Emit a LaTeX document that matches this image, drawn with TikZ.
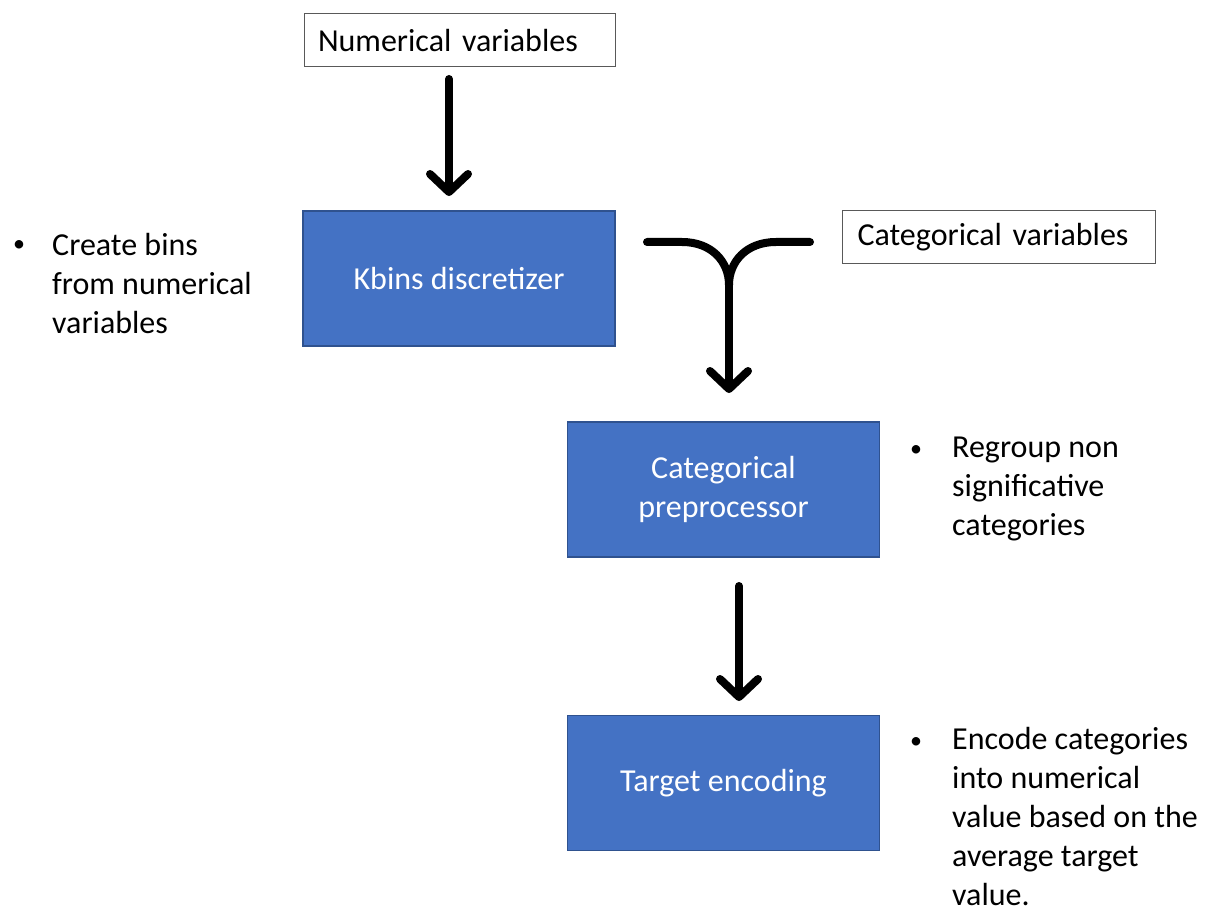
\documentclass[tikz,border=0pt]{standalone}
\usepackage{fontspec}
\setmainfont{Carlito}
\usetikzlibrary{arrows.meta}
\definecolor{boxblue}{HTML}{4472C4}
\definecolor{boxedge}{HTML}{2F528F}
\tikzset{
  inbox/.style={draw=black!65, line width=1pt, fill=white, minimum height=53pt,
    inner xsep=14pt, align=left, font=\fontsize{32}{39}\selectfont, anchor=center},
  stagebox/.style={draw=boxedge, line width=1.2pt, fill=boxblue, text=white,
    minimum width=312pt, minimum height=135pt, align=center,
    font=\fontsize{32}{39}\selectfont},
  note/.style={anchor=west, inner sep=0pt, align=left, font=\fontsize{32}{39}\selectfont},
  dot/.style={inner sep=0pt, font=\fontsize{24}{30}\selectfont},
  flow/.style={line width=8pt, line cap=round, line join=round,
    -{Straight Barb[length=18pt,width=38pt,line cap=round,line join=round]}},
  branch/.style={line width=8pt, line cap=round, line join=round}
}
\begin{document}
\begin{tikzpicture}[x=1pt,y=-1pt]
\useasboundingbox (0,0) rectangle (1212,909);
% input boxes
\node[inbox, text width=283pt] (num) at (459.5,40.5) {Numerical variables};
\node[inbox, text width=283pt, inner xsep=15pt] (cat) at (999,237.5) {Categorical variables};
% stage boxes
\node[stagebox] (kbins) at (459,278.5) {Kbins discretizer};
\node[stagebox] (prep) at (723.5,489.5) {Categorical\\preprocessor};
\node[stagebox] (target) at (723.5,783) {Target encoding};
% notes
\node[dot] (b1) at (19,246) {•};
\node[note] (n1) at (52,284) {Create bins\\from numerical\\variables};
\node[dot] (b2) at (916,451) {•};
\node[note] (n2) at (952,489) {Regroup non\\significative\\categories};
\node[dot] (b3) at (916,743) {•};
\node[note] (n3) at (952,817) {Encode categories\\into numerical\\value based on the\\average target\\value.};
% arrow 1
\coordinate (a1s) at (449,79);
\coordinate (a1e) at (449,196);
\draw[flow] (a1s) -- (a1e);
% merge arrow
\coordinate (ml) at (647,242);
\coordinate (mr) at (810,242);
\coordinate (mj) at (729,285);
\coordinate (me) at (729,393);
\draw[branch] (ml) -- (682,242) .. controls (712,242) and (729,262) .. (mj);
\draw[branch] (mr) -- (776,242) .. controls (746,242) and (729,262) .. (mj);
\draw[flow] (mj) -- (me);
% arrow 3
\coordinate (a3s) at (739,586);
\coordinate (a3e) at (739,701);
\draw[flow] (a3s) -- (a3e);
\end{tikzpicture}
\end{document}
